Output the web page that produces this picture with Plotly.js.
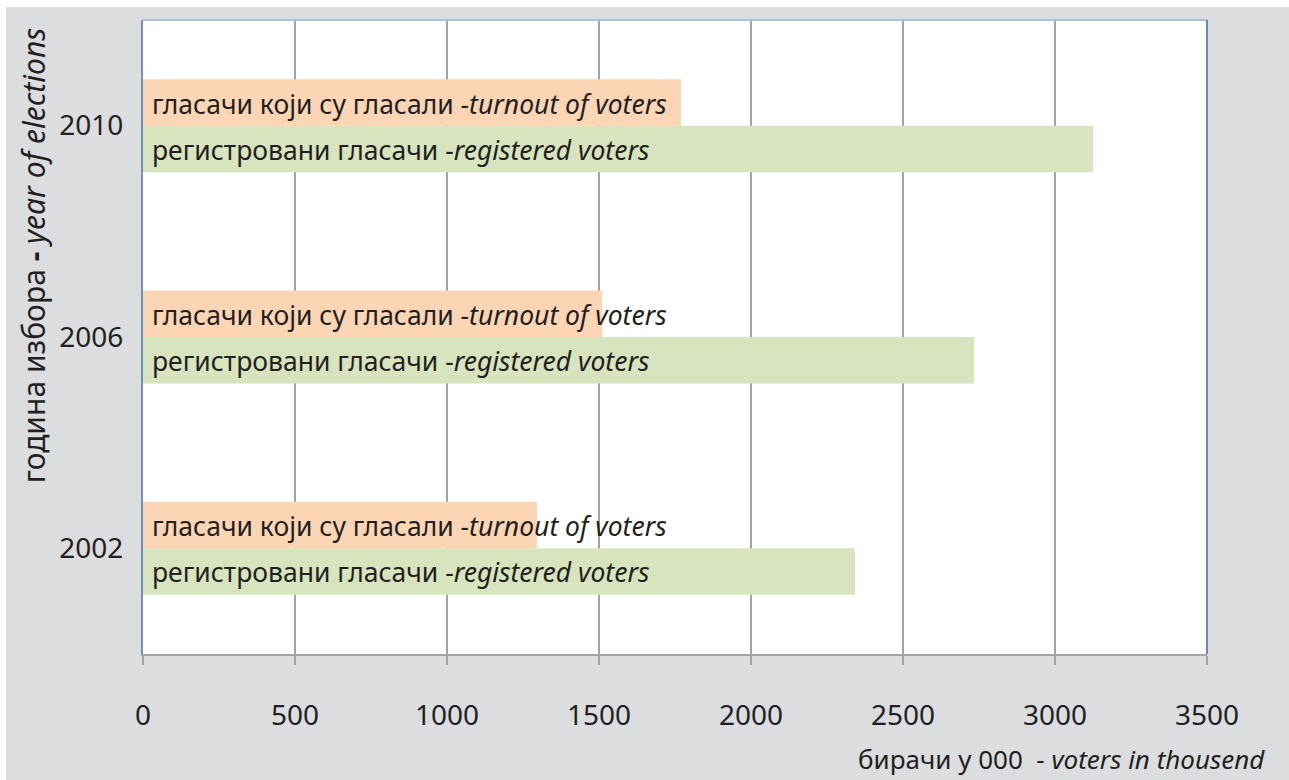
<!DOCTYPE html>
<html>
<head>
<meta charset="utf-8">
<script src="https://cdn.plot.ly/plotly-3.0.1.min.js"></script>
<style>html,body{margin:0;padding:0;background:#fff;}#chart{width:1289px;height:780px;}</style>
</head>
<body>
<div id="chart"></div>
<script>
const years = ['2002', '2006', '2010'];
const registered = [2342, 2734, 3125];
const turnout = [1296, 1510, 1770];
const labelRegistered = 'регистровани гласачи -<i>registered voters</i>';
const labelTurnout = 'гласачи који су гласали -<i>turnout of voters</i>';
const xTicks = [0, 500, 1000, 1500, 2000, 2500, 3000, 3500];
const xTitle = 'бирачи у 000  - <i>voters in thousend</i>';
const yTitle = 'година избора <b>-</b> <i>year of elections</i>';

const FONT = 'Noto Sans, Open Sans, sans-serif';
const TXT = '#231f20';

const traces = [
  {type: 'bar', orientation: 'h', name: 'registered', y: years, x: registered,
   marker: {color: '#d7e4bd'}, hoverinfo: 'x'},
  {type: 'bar', orientation: 'h', name: 'turnout', y: years, x: turnout,
   marker: {color: '#fcd5b5'}, hoverinfo: 'x'}
];

const annotations = [];
years.forEach(function (yr, i) {
  annotations.push({x: 0, y: i, xref: 'x', yref: 'y', text: labelTurnout, showarrow: false,
    xanchor: 'left', yanchor: 'middle', xshift: 7, yshift: 22,
    font: {family: FONT, size: 26.5, color: TXT}});
  annotations.push({x: 0, y: i, xref: 'x', yref: 'y', text: labelRegistered, showarrow: false,
    xanchor: 'left', yanchor: 'middle', xshift: 7, yshift: -24,
    font: {family: FONT, size: 26.5, color: TXT}});
});
annotations.push({xref: 'paper', yref: 'paper', x: 1.0564, y: -0.166, xanchor: 'right', yanchor: 'middle',
  text: xTitle, showarrow: false, font: {family: FONT, size: 26, color: TXT}});
annotations.push({xref: 'paper', yref: 'paper', x: -0.1034, y: 0.629, xanchor: 'center', yanchor: 'middle',
  textangle: -90, text: yTitle, showarrow: false, font: {family: FONT, size: 30, color: TXT}});

const layout = {
  width: 1289, height: 780,
  margin: {l: 143, r: 82, t: 20, b: 126, pad: 0},
  paper_bgcolor: '#dcdddf',
  plot_bgcolor: '#ffffff',
  showlegend: false,
  barmode: 'group',
  bargap: 0.56,
  bargroupgap: 0,
  font: {family: FONT, color: TXT},
  xaxis: {
    range: [0, 3500], tickvals: xTicks, ticktext: xTicks.map(String),
    showgrid: true, gridcolor: '#a3a3a3', gridwidth: 2, zeroline: false,
    showline: true, linecolor: '#a3a3a3', linewidth: 2,
    ticks: 'outside', ticklen: 9, tickwidth: 2, tickcolor: '#a3a3a3',
    ticklabelstandoff: 26,
    tickfont: {family: FONT, size: 28, color: TXT}, fixedrange: true
  },
  yaxis: {
    type: 'category', categoryarray: years, categoryorder: 'array',
    range: [-0.5, years.length - 0.5], autorange: false,
    showgrid: false, zeroline: false,
    showline: true, linecolor: '#7390b8', linewidth: 2,
    ticks: '', ticklabelstandoff: 12,
    tickfont: {family: FONT, size: 28, color: TXT}, fixedrange: true
  },
  shapes: [
    {type: 'line', xref: 'paper', yref: 'paper', x0: 0, x1: 1, y0: 1, y1: 1,
     line: {color: '#a9c0de', width: 2}, layer: 'above'},
    {type: 'line', xref: 'paper', yref: 'paper', x0: 1, x1: 1, y0: 0, y1: 1,
     line: {color: '#6e87aa', width: 2}, layer: 'above'},
    {type: 'rect', xref: 'paper', yref: 'paper', x0: -0.14, x1: -0.1288, y0: -0.3, y1: 1.1,
     fillcolor: '#ffffff', line: {width: 0}, layer: 'above'},
    {type: 'rect', xref: 'paper', yref: 'paper', x0: -0.14, x1: 1.1, y0: 1.0205, y1: 1.1,
     fillcolor: '#ffffff', line: {width: 0}, layer: 'above'}
  ],
  annotations: annotations
};

Plotly.newPlot('chart', traces, layout, {displayModeBar: false, staticPlot: true});
</script>
</body>
</html>
